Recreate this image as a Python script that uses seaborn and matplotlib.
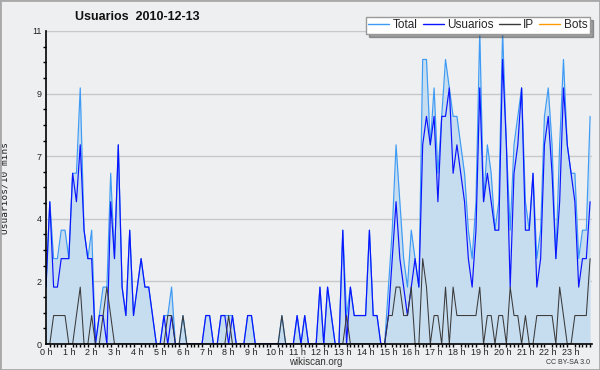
import numpy as np
import pandas as pd
import matplotlib
matplotlib.use("Agg")
import matplotlib.pyplot as plt
from matplotlib.ticker import MultipleLocator, FixedLocator
from matplotlib.lines import Line2D
from matplotlib.patches import Rectangle
import seaborn as sns

# users per 10 minutes, 144 slots (one row per hour)
usuarios = [
    2, 5, 2, 2, 3, 3,   3, 6, 5, 7, 4, 3,   3, 0, 1, 1, 0, 5,   3, 7, 2, 1, 4, 1,
    2, 3, 2, 2, 1, 0,   0, 1, 0, 1, 0, 0,   0, 0, 0, 0, 0, 0,   1, 1, 0, 0, 1, 1,
    0, 1, 0, 0, 0, 1,   1, 0, 0, 0, 0, 0,   0, 0, 0, 0, 0, 0,   1, 0, 1, 0, 0, 0,
    2, 0, 2, 1, 0, 0,   4, 0, 2, 1, 1, 1,   1, 4, 1, 1, 0, 0,   1, 3, 5, 3, 2, 1,
    2, 3, 2, 7, 8, 7,   8, 5, 8, 8, 9, 6,   7, 6, 5, 3, 2, 4,   9, 5, 6, 5, 4, 4,
    10, 7, 2, 6, 7, 9,  4, 4, 6, 2, 3, 7,   8, 6, 3, 5, 9, 7,   6, 5, 2, 3, 3, 5,
]
ip = [
    0, 0, 1, 1, 1, 1,   0, 0, 1, 2, 0, 0,   1, 0, 0, 1, 2, 1,   0, 0, 0, 0, 0, 0,
    0, 0, 0, 0, 0, 0,   0, 0, 1, 1, 0, 0,   1, 0, 0, 0, 0, 0,   0, 0, 0, 0, 0, 0,
    1, 0, 0, 0, 0, 0,   0, 0, 0, 0, 0, 0,   0, 0, 1, 0, 0, 0,   0, 0, 0, 0, 0, 0,
    0, 0, 0, 0, 0, 0,   0, 1, 0, 0, 0, 0,   0, 0, 0, 0, 0, 0,   1, 1, 2, 2, 1, 1,
    2, 0, 0, 3, 2, 0,   1, 1, 0, 2, 0, 2,   1, 1, 1, 1, 1, 1,   2, 0, 1, 1, 0, 1,
    1, 0, 2, 1, 1, 0,   1, 0, 0, 1, 1, 1,   1, 1, 0, 2, 1, 0,   0, 1, 1, 1, 1, 3,
]
total = [
    2, 5, 3, 3, 4, 4,   3, 6, 6, 9, 4, 3,   4, 0, 1, 2, 2, 6,   3, 7, 2, 1, 4, 1,
    2, 3, 2, 2, 1, 0,   0, 1, 1, 2, 0, 0,   1, 0, 0, 0, 0, 0,   1, 1, 0, 0, 1, 1,
    1, 1, 0, 0, 0, 1,   1, 0, 0, 0, 0, 0,   0, 0, 1, 0, 0, 0,   1, 0, 1, 0, 0, 0,
    2, 0, 2, 1, 0, 0,   4, 1, 2, 1, 1, 1,   1, 4, 1, 1, 0, 0,   2, 4, 7, 5, 3, 2,
    4, 3, 2, 10, 10, 7, 9, 6, 8, 10, 9, 8,  8, 7, 6, 4, 3, 5,   11, 5, 7, 6, 4, 5,
    11, 7, 4, 7, 8, 9,  5, 4, 6, 3, 4, 8,   9, 7, 3, 7, 10, 7,  6, 6, 3, 4, 4, 8,
]
hour_labels = [f"{h} h" for h in range(24)]
y_tick_labels = ["0", "2", "4", "7", "9", "11"]

df = pd.DataFrame({"slot": np.arange(len(total)), "total": total,
                   "usuarios": usuarios, "ip": ip})

sns.set_style("white")
plt.rcParams["font.family"] = ["Liberation Sans", "DejaVu Sans"]

bg = "#eeeff0"
fig = plt.figure(figsize=(6, 3.7), dpi=100, facecolor=bg)
ax = fig.add_axes([46 / 600, 1 - 344 / 370, 546 / 600, 313 / 370])
ax.set_facecolor(bg)

ax.fill_between(df["slot"], df["total"], color="#c6dcef", lw=0, zorder=1)
sns.lineplot(data=df, x="slot", y="total", color="#3d9bf5", lw=0.85, ax=ax, zorder=3)
sns.lineplot(data=df, x="slot", y="usuarios", color="#0a14ff", lw=0.85, ax=ax, zorder=4)
sns.lineplot(data=df, x="slot", y="ip", color="#3a3a3a", lw=0.75, ax=ax, zorder=5)

ax.set_xlim(0, 143.5)
ax.set_ylim(0, 11)
ax.yaxis.set_major_locator(FixedLocator([0, 2.2, 4.4, 6.6, 8.8, 11]))
ax.set_yticklabels(y_tick_labels)
ax.yaxis.set_minor_locator(MultipleLocator(0.55))
ax.xaxis.set_major_locator(FixedLocator(np.arange(0, 144, 6)))
ax.set_xticklabels(hour_labels)
ax.xaxis.set_minor_locator(MultipleLocator(1))
ax.grid(axis="y", color="#c8c8c8", lw=1, zorder=0)
ax.set_axisbelow(True)

for s in ["top", "right"]:
    ax.spines[s].set_visible(False)
for s in ["left", "bottom"]:
    ax.spines[s].set_color("black")
    ax.spines[s].set_linewidth(1.2)
    ax.spines[s].set_zorder(6)
ax.tick_params(which="major", direction="out", length=3, width=1, colors="black",
               labelsize=6.5, labelcolor="#222222", pad=0)
ax.tick_params(which="minor", direction="out", length=2.5, width=1, colors="black")
ax.tick_params(axis="y", which="minor", left=True)
ax.tick_params(axis="x", which="minor", bottom=True)

ax.set_xlabel("wikiscan.org", fontsize=7, color="#333333")
ax.xaxis.set_label_coords((316 - 46) / 546, (344 - 357) / 313)
ax.set_ylabel("Usuarios/10 mins", fontsize=6.8, family="DejaVu Sans Mono",
              color="#222222")
ax.yaxis.set_label_coords((10 - 46) / 546, 0.5)

fig.text(75 / 600, 1 - 17 / 370, "Usuarios  2010-12-13", fontsize=9,
         fontweight="bold", va="center", ha="left", color="#111111")
fig.text(590 / 600, 1 - 362 / 370, "CC BY-SA 3.0", fontsize=5, color="#333333",
         ha="right", va="center")

handles = [Line2D([], [], color="#3d9bf5", lw=1),
           Line2D([], [], color="#0a14ff", lw=1),
           Line2D([], [], color="#3a3a3a", lw=1),
           Line2D([], [], color="#ff9900", lw=1)]
leg = fig.legend(handles, ["Total", "Usuarios", "IP", "Bots"], ncol=4,
                 loc="upper right", bbox_to_anchor=(590 / 600, 1 - 17 / 370),
                 fontsize=8.5, frameon=True, fancybox=False, shadow=True,
                 handlelength=1.8, handletextpad=0.3, columnspacing=0.4,
                 borderpad=0.2, borderaxespad=0)
leg.get_frame().set_edgecolor("#999999")
leg.get_frame().set_facecolor("white")
leg.set_zorder(10)

fig.patches.append(Rectangle((0, 0), 1, 1, transform=fig.transFigure, fill=False,
                             edgecolor="#a8a8a8", lw=2))

fig.savefig("out.png", dpi=100, facecolor=bg)
